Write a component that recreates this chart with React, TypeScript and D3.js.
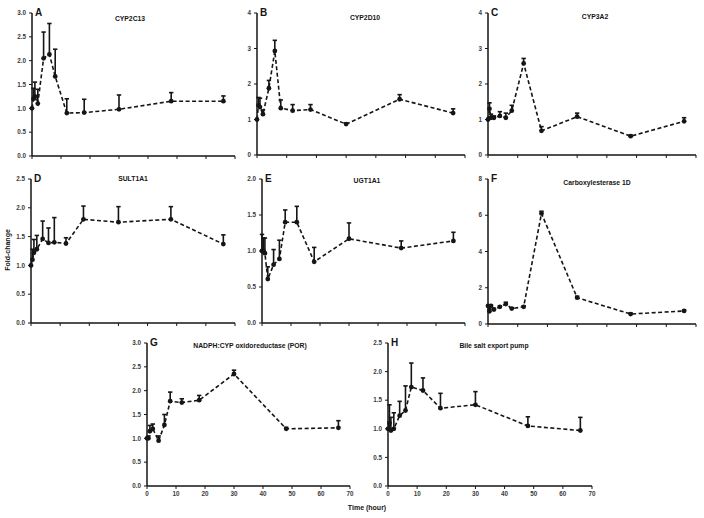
import React from "react";
import * as d3 from "d3";

const times = [0, 0.5, 1, 2, 4, 6, 8, 12, 18, 30, 48, 66];
const xTicks = [0, 10, 20, 30, 40, 50, 60, 70];

const panelLetters = ["A", "B", "C", "D", "E", "F", "G", "H"];
const panelTitles = [
  "CYP2C13",
  "CYP2D10",
  "CYP3A2",
  "SULT1A1",
  "UGT1A1",
  "Carboxylesterase 1D",
  "NADPH:CYP oxidoreductase (POR)",
  "Bile salt export pump",
];

const cyp2c13Mean = [1.0, 1.2, 1.25, 1.1, 2.05, 2.13, 1.67, 0.9, 0.91, 0.98, 1.15, 1.15];
const cyp2c13Sem = [0, 0.22, 0.3, 0.3, 0.55, 0.65, 0.57, 0.3, 0.28, 0.3, 0.18, 0.11];
const cyp2d10Mean = [1.0, 1.4, 1.35, 1.15, 1.88, 2.93, 1.32, 1.25, 1.28, 0.87, 1.57, 1.18];
const cyp2d10Sem = [0, 0.22, 0.25, 0.12, 0.22, 0.3, 0.23, 0.17, 0.14, 0.03, 0.13, 0.12];
const cyp3a2Mean = [1.0, 1.3, 1.05, 1.05, 1.1, 1.05, 1.25, 2.58, 0.68, 1.08, 0.53, 0.95];
const cyp3a2Sem = [0, 0.17, 0.1, 0.05, 0.12, 0.13, 0.15, 0.14, 0.12, 0.1, 0.03, 0.1];
const sult1a1Mean = [1.0, 1.1, 1.22, 1.28, 1.46, 1.39, 1.4, 1.38, 1.8, 1.75, 1.8, 1.37];
const sult1a1Sem = [0, 0.18, 0.23, 0.24, 0.31, 0.26, 0.43, 0.1, 0.23, 0.27, 0.22, 0.16];
const ugt1a1Mean = [1.0, 1.0, 0.97, 0.61, 0.81, 0.89, 1.4, 1.4, 0.85, 1.17, 1.04, 1.14];
const ugt1a1Sem = [0.23, 0.18, 0.21, 0.17, 0.21, 0.26, 0.17, 0.22, 0.2, 0.22, 0.1, 0.12];
const ces1dMean = [1.0, 0.7, 1.0, 0.8, 0.95, 1.1, 0.85, 0.95, 6.1, 1.45, 0.55, 0.72];
const ces1dSem = [0, 0.1, 0.05, 0.05, 0.05, 0.1, 0.05, 0.05, 0.12, 0.08, 0.05, 0.05];
const porMean = [1.0, 1.0, 1.15, 1.2, 0.95, 1.28, 1.78, 1.75, 1.8, 2.35, 1.2, 1.22];
const porSem = [0, 0.05, 0.12, 0.1, 0.1, 0.22, 0.19, 0.08, 0.1, 0.08, 0.03, 0.15];
const bsepMean = [1.0, 1.1, 0.97, 1.0, 1.23, 1.32, 1.73, 1.67, 1.36, 1.42, 1.05, 0.97];
const bsepSem = [0, 0.32, 0.23, 0.28, 0.25, 0.43, 0.42, 0.22, 0.26, 0.23, 0.16, 0.23];

const yMaxes = [3, 4, 4, 2.5, 2.0, 8, 3, 2.5];
const ySteps = [0.5, 1, 1, 0.5, 0.5, 2, 0.5, 0.5];

const means = [cyp2c13Mean, cyp2d10Mean, cyp3a2Mean, sult1a1Mean, ugt1a1Mean, ces1dMean, porMean, bsepMean];
const sems = [cyp2c13Sem, cyp2d10Sem, cyp3a2Sem, sult1a1Sem, ugt1a1Sem, ces1dSem, porSem, bsepSem];

// layout: [left, right, top, bottom, titleX, titleDy, showXLabels]
const layout: [number, number, number, number, number, number, boolean][] = [
  [32, 235, 13, 156, 130, 8, false],
  [257, 465, 13, 155, 365, 7, false],
  [488, 696, 13, 155, 595, 6, false],
  [31, 235, 179, 323, 133, 2, false],
  [262, 465, 179, 323, 367, 4, false],
  [488, 696, 179, 324, 597, 6, false],
  [147, 350, 343, 486, 250, 5, true],
  [388, 592, 343, 486, 494, 5, true],
];

const FONT = "'Liberation Sans', Arial, sans-serif";
const INK = "#151515";

function Panel({ i }: { i: number }) {
  const [left, right, top, bottom, titleX, titleDy, showX] = layout[i];
  const x = d3.scaleLinear().domain([0, 70]).range([left, right]);
  const y = d3.scaleLinear().domain([0, yMaxes[i]]).range([bottom, top]);
  const yTicks = d3.range(0, yMaxes[i] + 1e-9, ySteps[i]);
  const dec = ySteps[i] < 1 ? 1 : 0;
  const m = means[i];
  const s = sems[i];
  const line = d3
    .line<number>()
    .x((_, k) => x(times[k]))
    .y((v) => y(v));
  return (
    <g>
      <line x1={left} x2={left} y1={top} y2={bottom} stroke={INK} strokeWidth={1.5} />
      <line x1={left} x2={right} y1={bottom} y2={bottom} stroke={INK} strokeWidth={1.5} />
      {yTicks.map((t) => (
        <g key={"y" + t}>
          <line x1={left - 3} x2={left} y1={y(t)} y2={y(t)} stroke={INK} strokeWidth={1} />
          <text
            x={left - 6}
            y={y(t) + 2.2}
            textAnchor="end"
            fontSize={6.3}
            fontWeight="bold"
            fontFamily={FONT}
            fill="#3a3a3a"
          >
            {t.toFixed(dec)}
          </text>
        </g>
      ))}
      {xTicks.map((t) => (
        <g key={"x" + t}>
          <line x1={x(t)} x2={x(t)} y1={bottom} y2={bottom + 3} stroke={INK} strokeWidth={1} />
          {showX && (
            <text
              x={x(t)}
              y={bottom + 10}
              textAnchor="middle"
              fontSize={6.3}
              fontWeight="bold"
              fontFamily={FONT}
              fill="#3a3a3a"
            >
              {t}
            </text>
          )}
        </g>
      ))}
      <path d={line(m) || ""} fill="none" stroke={INK} strokeWidth={1.6} strokeDasharray="4,2.5" />
      {m.map((v, k) =>
        s[k] > 0.02 ? (
          <g key={"e" + k}>
            <line x1={x(times[k])} x2={x(times[k])} y1={y(v)} y2={y(v + s[k])} stroke={INK} strokeWidth={1.6} />
            <line x1={x(times[k]) - 2.2} x2={x(times[k]) + 2.2} y1={y(v + s[k])} y2={y(v + s[k])} stroke={INK} strokeWidth={1.6} />
          </g>
        ) : null
      )}
      {m.map((v, k) => (
        <circle key={"p" + k} cx={x(times[k])} cy={y(v)} r={2.4} fill={INK} />
      ))}
      <text x={left + 3} y={top + 2.5} fontSize={10} fontWeight="bold" fontFamily={FONT} fill={INK}>
        {panelLetters[i]}
      </text>
      <text
        x={titleX}
        y={top + titleDy}
        textAnchor="middle"
        fontSize={6.8}
        fontWeight="bold"
        fontFamily={FONT}
        fill={INK}
      >
        {panelTitles[i]}
      </text>
    </g>
  );
}

export default function App() {
  return (
    <svg
      width={704}
      height={518}
      style={{ position: "absolute", left: 0, top: 0, background: "#fff" }}
    >
      <rect width={704} height={518} fill="#fff" />
      {panelLetters.map((_, i) => (
        <Panel key={i} i={i} />
      ))}
      <text
        transform="translate(10,250) rotate(-90)"
        textAnchor="middle"
        fontSize={7}
        fontWeight="bold"
        fontFamily={FONT}
        fill={INK}
      >
        Fold-change
      </text>
      <text x={367} y={510} textAnchor="middle" fontSize={7} fontWeight="bold" fontFamily={FONT} fill={INK}>
        Time (hour)
      </text>
    </svg>
  );
}
